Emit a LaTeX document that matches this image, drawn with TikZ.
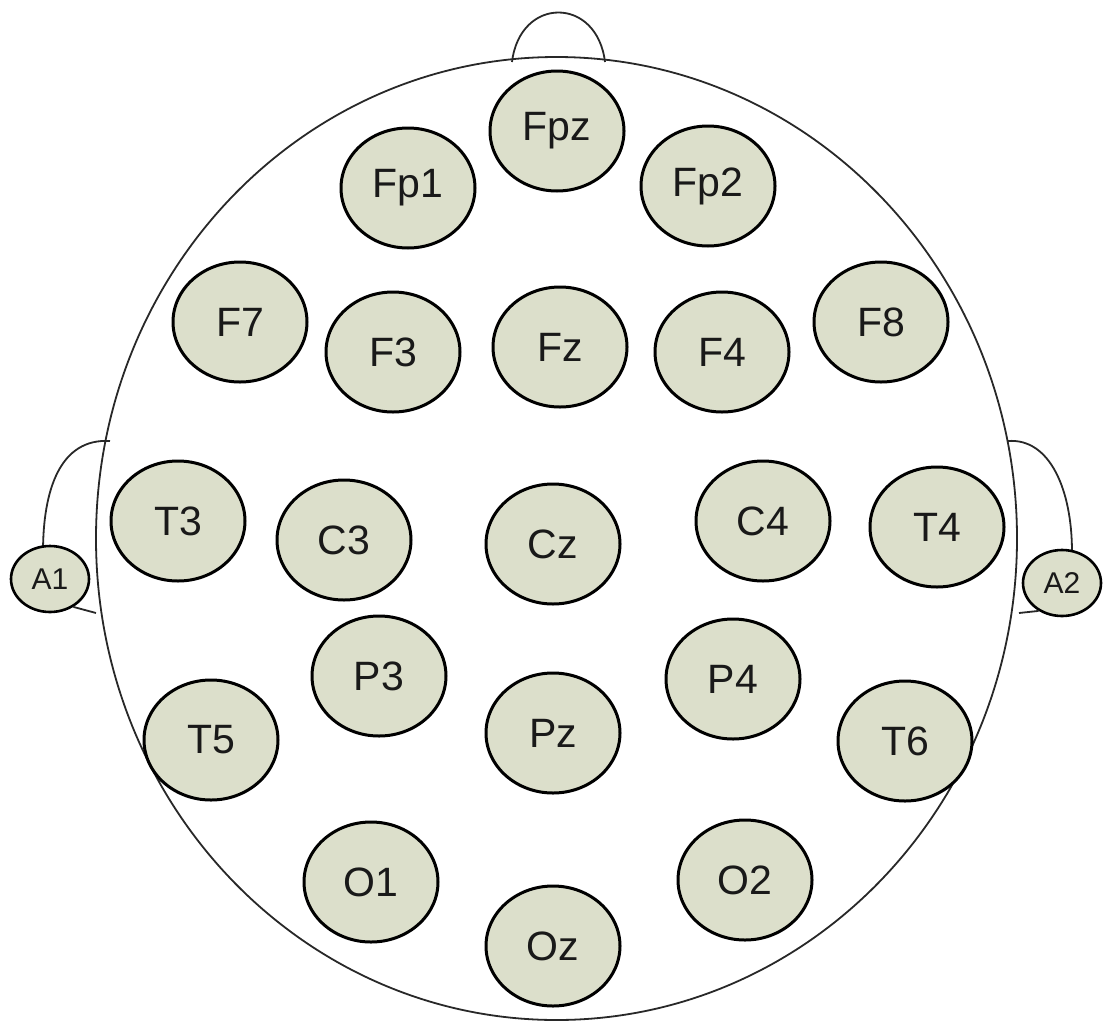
\documentclass[tikz,border=0pt]{standalone}
\usepackage{fontspec}
\setmainfont{Liberation Sans}
\usetikzlibrary{shapes.geometric}
\definecolor{elfill}{RGB}{220,223,203}
\definecolor{headline}{RGB}{40,40,40}
\tikzset{
  electrode/.style={ellipse, draw=black, fill=elfill, line width=3pt,
    minimum width=134pt, minimum height=120pt, inner sep=0pt,
    font=\fontsize{41}{43}\selectfont, text=black!90},
  earel/.style={ellipse, draw=black, fill=elfill, line width=2.6pt,
    minimum width=78pt, minimum height=66pt, inner sep=0pt,
    font=\fontsize{30}{32}\selectfont, text=black!90},
  headstroke/.style={draw=headline, line width=1.8pt}
}
\begin{document}
\begin{tikzpicture}[x=1pt,y=-1pt]
\useasboundingbox (0,0) rectangle (1103,1023);
% head
\coordinate (hc) at (556.5,538.5);
\draw[headstroke] (hc) ellipse [x radius=460.5, y radius=481.5];
% nose
\coordinate (nl) at (512,62);
\coordinate (nr) at (605,62);
\draw[headstroke] (nl) .. controls (520,-4) and (597,-4) .. (nr);
% ears (outline)
\coordinate (le1) at (110,441);
\coordinate (le2) at (43,552);
\coordinate (le3) at (96,613);
\coordinate (re1) at (1008,441);
\coordinate (re2) at (1072,552);
\coordinate (re3) at (1019,613);
\draw[headstroke] (le1) .. controls (60,438) and (43,490) .. (le2);
\draw[headstroke] (re1) .. controls (1050,438) and (1072,490) .. (re2);
% electrodes
\node[electrode] (Fpz) at (557,131) {Fpz};
\node[electrode] (Fp1) at (408,188) {Fp1};
\node[electrode] (Fp2) at (708,186) {Fp2};
\node[electrode] (F7) at (240,322) {F7};
\node[electrode] (F3) at (393,352) {F3};
\node[electrode] (Fz) at (560,347) {Fz};
\node[electrode] (F4) at (722,352) {F4};
\node[electrode] (F8) at (881,322) {F8};
\node[electrode] (T3) at (178,521) {T3};
\node[electrode] (C3) at (344,540) {C3};
\node[electrode] (Cz) at (553,544) {Cz};
\node[electrode] (C4) at (763,521) {C4};
\node[electrode] (T4) at (937,527) {T4};
\node[electrode] (P3) at (379,676) {P3};
\node[electrode] (Pz) at (553,733) {Pz};
\node[electrode] (P4) at (733,679) {P4};
\node[electrode] (T5) at (211,740) {T5};
\node[electrode] (T6) at (905,741) {T6};
\node[electrode] (O1) at (371,882) {O1};
\node[electrode] (Oz) at (553,946) {Oz};
\node[electrode] (O2) at (745,880) {O2};
\node[earel] (A1) at (50,579) {A1};
\node[earel] (A2) at (1062,583) {A2};
% ear lobes joining the head
\draw[headstroke] (A1.-50) -- (le3);
\draw[headstroke] (A2.-130) -- (re3);
\end{tikzpicture}
\end{document}
